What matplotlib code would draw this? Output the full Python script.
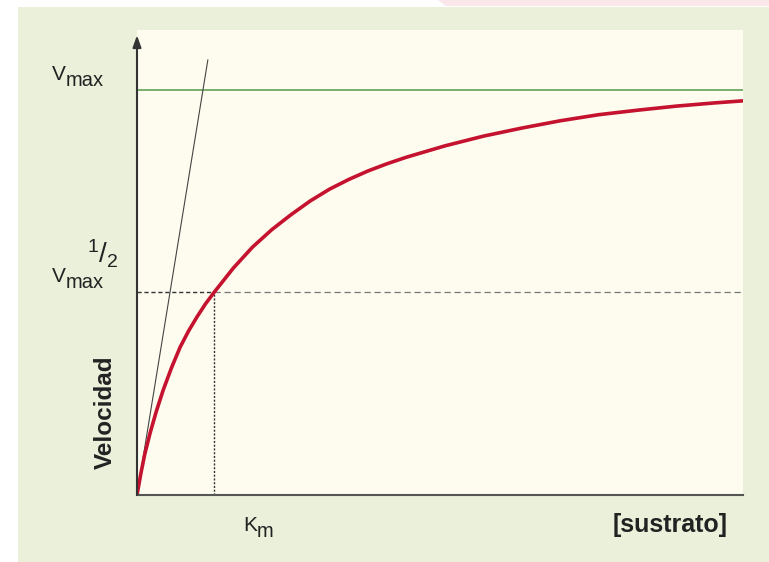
import numpy as np
import matplotlib.pyplot as plt
from matplotlib.patches import Rectangle, Polygon

plt.rcParams['font.family'] = ['Liberation Sans', 'DejaVu Sans']
plt.rcParams['mathtext.fontset'] = 'custom'
plt.rcParams['mathtext.rm'] = 'Liberation Sans'
plt.rcParams['mathtext.it'] = 'Liberation Sans'

# substrate in units of Km, velocity as fraction of Vmax
sustrato = [0.0, 0.05, 0.1, 0.17, 0.25, 0.34, 0.45, 0.56, 0.67, 0.78, 0.89,
            1.0, 1.25, 1.5, 1.75, 2.0, 2.25, 2.5, 2.75, 3.0, 3.25, 3.5, 4.0,
            4.5, 5.0, 5.5, 6.0, 6.5, 7.0, 7.5, 7.86]
velocidad = [0.0, 0.053, 0.1, 0.153, 0.206, 0.259, 0.315, 0.365, 0.405, 0.44,
             0.472, 0.5, 0.56, 0.612, 0.655, 0.692, 0.726, 0.755, 0.779, 0.8,
             0.818, 0.834, 0.862, 0.886, 0.906, 0.924, 0.939, 0.95, 0.96,
             0.968, 0.973]
vmax = 1.0
km = 1.0
tangente_x = [0.0, 0.92]
tangente_y = [0.0, 1.074]
x_max = 7.87
y_max = 1.148

fig = plt.figure(figsize=(7.69, 5.62), dpi=100)
fig.patch.set_facecolor('white')
# green panel and pink corner
fig.patches.append(Polygon([[0.57, 1], [1, 1], [1, 0.99], [0.58, 0.99]],
                           closed=True, transform=fig.transFigure,
                           facecolor='#fbe6ea', edgecolor='none', zorder=0))
fig.patches.append(Rectangle((18 / 769, 0), 1 - 18 / 769, 1 - 7 / 562,
                             transform=fig.transFigure, facecolor='#eaf0da',
                             edgecolor='none', zorder=0))

ax = fig.add_axes([137 / 769, 67 / 562, 606 / 769, 465 / 562])
ax.set_zorder(2)
ax.set_facecolor('#fdfcee')
ax.set_xlim(0, x_max)
ax.set_ylim(0, y_max)
for s in ['top', 'right', 'left']:
    ax.spines[s].set_visible(False)
ax.spines['bottom'].set_color('#555555')
ax.spines['bottom'].set_linewidth(1.5)
ax.set_xticks([])
ax.set_yticks([])

# y axis with arrow
ax.annotate('', xy=(0, 1.135), xytext=(0, 0),
            arrowprops=dict(arrowstyle='-|>,head_width=0.25,head_length=0.7',
                            color='#333333', lw=1.5, shrinkA=0, shrinkB=0),
            annotation_clip=False)

ax.plot([0, x_max], [vmax, vmax], color='#6fa863', lw=1.3)
ax.plot([0, km], [vmax / 2, vmax / 2], color='#333333', lw=1.0, ls=(0, (3, 2)))
ax.plot([km, x_max], [vmax / 2, vmax / 2], color='#777777', lw=0.9, ls=(0, (5, 3)))
ax.plot([km, km], [0, vmax / 2], color='#333333', lw=1.0, ls=(0, (1.5, 1.2)))
ax.plot(tangente_x, tangente_y, color='#444444', lw=0.8)
ax.plot(sustrato, velocidad, color='#c4122f', lw=2.6, solid_capstyle='round',
        solid_joinstyle='round')


def txt(px, py, s, **kw):
    kw.setdefault('color', '#222222')
    fig.text(px / 769, 1 - py / 562, s, **kw)


# Vmax
txt(52, 80, 'V', fontsize=15)
txt(66, 86, 'max', fontsize=14.5)
# 1/2 Vmax
txt(87, 264, r'$^{1}/_{2}$', fontsize=20)
txt(52, 282, 'V', fontsize=15)
txt(66, 288, 'max', fontsize=14.5)
# Km
txt(243, 531, 'K', fontsize=15)
txt(257, 537, 'm', fontsize=14.5)

txt(105, 412, 'Velocidad', fontsize=17.5, fontweight='bold',
    rotation=90, ha='center', va='center')
txt(728, 532, '[sustrato]', fontsize=18, fontweight='bold', ha='right')

fig.savefig('out.png', dpi=100)
